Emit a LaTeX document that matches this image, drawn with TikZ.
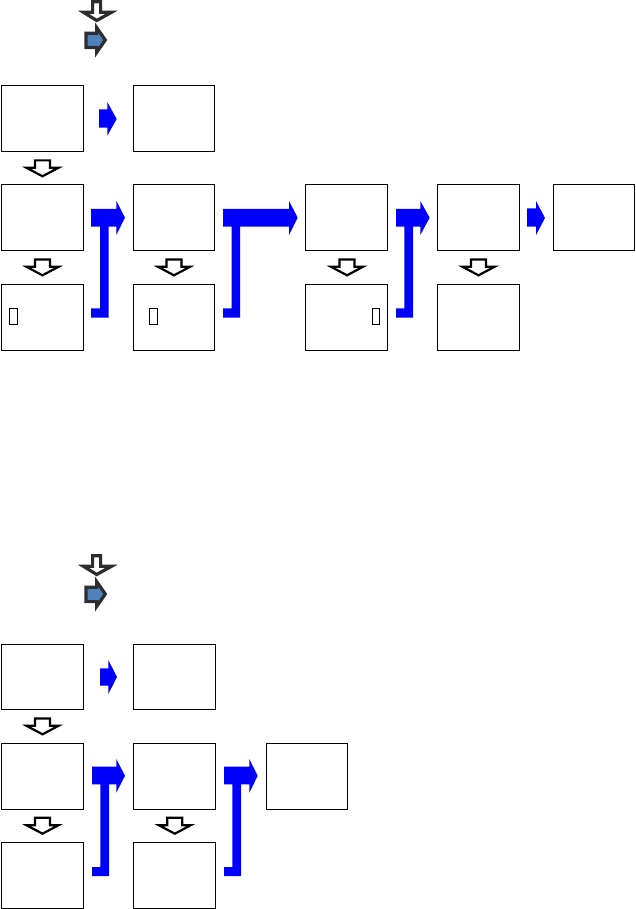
\documentclass[tikz,border=0pt]{standalone}
\usetikzlibrary{calc}
\definecolor{flowblue}{HTML}{0000FF}
\definecolor{icongray}{HTML}{2D2D2D}
\definecolor{iconblue}{HTML}{4F81BD}
\begin{document}
\begin{tikzpicture}[x=1pt,y=-1pt,
  box/.style={draw=black,line width=1pt,fill=white,minimum width=81.5pt,minimum height=65.5pt,inner sep=0pt,outer sep=0pt},
  tofu/.style={draw=black,line width=0.8pt},
  bluearrow/.style={fill=flowblue,draw=none},
  hollowdown/.style={draw=black,fill=white,line width=2.2pt,line join=miter},
  legenddown/.style={draw=icongray,fill=white,line width=3.2pt,line join=miter},
  legendright/.style={draw=icongray,fill=iconblue,line width=3.2pt,line join=miter}]
\useasboundingbox (0,0) rectangle (636,909);
\fill[white] (0,0) rectangle (636,909);

% ---------- top section ----------
% legend icons
\draw[legenddown] (92.6,1.7)--(100.6,1.7)--(100.6,12.3)--(111.5,12.3)--(96.7,20.5)--(83.5,12.3)--(92.6,12.3)--cycle;
\draw[legendright] (86,33.3)--(96.6,33.3)--(96.6,27.5)--(105.3,40)--(96.6,52.5)--(96.6,47.6)--(86,47.6)--cycle;

% boxes
\node[box] (a11) at (42.3,118.3) {};
\node[box] (a12) at (173.8,118.3) {};
\node[box] (a21) at (42.3,217.3) {};
\node[box] (a22) at (173.8,217.3) {};
\node[box] (a23) at (346.7,217.3) {};
\node[box] (a24) at (478.3,217.3) {};
\node[box] (a25) at (593.8,217.3) {};
\node[box] (a31) at (42.3,317.3) {};
\node[box] (a32) at (173.8,317.3) {};
\node[box] (a33) at (346.7,317.3) {};
\node[box] (a34) at (478.3,317.3) {};

% tofu glyphs
\draw[tofu] (9.7,308.7) rectangle (17,324.7);
\draw[tofu] (149.7,308.7) rectangle (157.3,324.7);
\draw[tofu] (372,308.7) rectangle (379,324.7);

% small blue arrows
\fill[bluearrow] (99,109.3)--(107.3,109.3)--(107.3,102)--(116.7,119)--(107.3,135.7)--(107.3,127.7)--(99,127.7)--cycle;
\fill[bluearrow] (527,208.3)--(536,208.3)--(536,201)--(545,218)--(536,235)--(536,226.7)--(527,226.7)--cycle;

% L-shaped blue arrows
\fill[bluearrow] (91,209)--(116.3,209)--(116.3,200.7)--(125,217.7)--(116.3,235)--(116.3,226.7)--(108.7,226.7)--(108.7,317.7)--(91,317.7)--(91,308.3)--(100,308.3)--(100,226.7)--(91,226.7)--cycle;
\fill[bluearrow] (223,209)--(289,209)--(289,201)--(297.7,217.7)--(289,235)--(289,226.7)--(240,226.7)--(240,317.7)--(223,317.7)--(223,308.3)--(231.7,308.3)--(231.7,226.7)--(223,226.7)--cycle;
\fill[bluearrow] (396,209)--(420.3,209)--(420.3,201)--(429.7,217.7)--(420.3,235)--(420.3,226.7)--(413,226.7)--(413,317.7)--(396,317.7)--(396,308.3)--(404.3,308.3)--(404.3,226.7)--(396,226.7)--cycle;

% hollow down arrows
\foreach \cx/\ty in {42.5/159.3, 42.5/258.3, 174/258.3, 347/258.3, 478.5/258.3, 42.5/717.3, 42.5/816.7, 174.8/816.7}{
  \draw[hollowdown] (\cx-7.5,\ty+1.1)--(\cx+7.5,\ty+1.1)--(\cx+7.5,\ty+8.5)--(\cx+16,\ty+8.5)--(\cx,\ty+17)--(\cx-16,\ty+8.5)--(\cx-7.5,\ty+8.5)--cycle;
}

% ---------- bottom section ----------
\begin{scope}[yshift=-554pt]
\draw[legenddown] (92.6,1.7)--(100.6,1.7)--(100.6,12.3)--(111.5,12.3)--(96.7,20.5)--(83.5,12.3)--(92.6,12.3)--cycle;
\draw[legendright] (86,33.3)--(96.6,33.3)--(96.6,27.5)--(105.3,40)--(96.6,52.5)--(96.6,47.6)--(86,47.6)--cycle;
\end{scope}

\node[box] (b11) at (42.3,676.8) {};
\node[box] (b12) at (174.3,676.8) {};
\node[box] (b21) at (42.3,776.3) {};
\node[box] (b22) at (174.3,776.3) {};
\node[box] (b23) at (307,776.3) {};
\node[box] (b31) at (42.3,875.3) {};
\node[box] (b32) at (174.3,875.3) {};

\fill[bluearrow] (100,668.3)--(108.3,668.3)--(108.3,660)--(117,677)--(108.3,694)--(108.3,685.7)--(100,685.7)--cycle;

\fill[bluearrow] (92,766.7)--(116.3,766.7)--(116.3,759)--(125,775.8)--(116.3,792.7)--(116.3,784.3)--(109,784.3)--(109,876)--(92,876)--(92,867)--(100.3,867)--(100.3,784.3)--(92,784.3)--cycle;
\fill[bluearrow] (224,766.7)--(249.3,766.7)--(249.3,759)--(257.7,775.8)--(249.3,792.7)--(249.3,784.3)--(241,784.3)--(241,876)--(224,876)--(224,867)--(232.3,867)--(232.3,784.3)--(224,784.3)--cycle;
\end{tikzpicture}
\end{document}
